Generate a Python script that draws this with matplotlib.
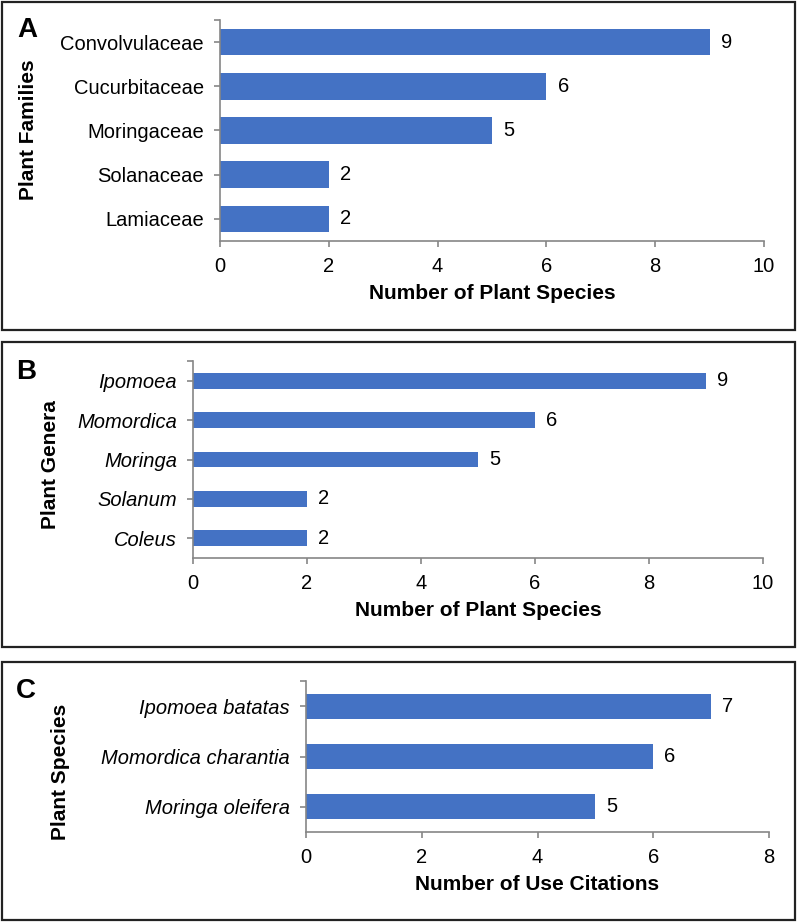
import matplotlib
matplotlib.use("Agg")
import matplotlib.pyplot as plt
from matplotlib.patches import Rectangle

plt.rcParams['font.family'] = ['Liberation Sans', 'DejaVu Sans']

# Panel A: plant families
familias = ['Convolvulaceae', 'Cucurbitaceae', 'Moringaceae', 'Solanaceae', 'Lamiaceae']
especies_familia = [9, 6, 5, 2, 2]

# Panel B: plant genera
generos = ['Ipomoea', 'Momordica', 'Moringa', 'Solanum', 'Coleus']
especies_genero = [9, 6, 5, 2, 2]

# Panel C: plant species
especies = ['Ipomoea batatas', 'Momordica charantia', 'Moringa oleifera']
citas = [7, 6, 5]

AZUL = '#4472C4'
GRIS = '#868686'
W, H = 797, 922

fig = plt.figure(figsize=(W / 100, H / 100), dpi=100)


def px_axes(x0, x1, y0, y1):
    # convert pixel box (top-left origin) to figure fraction
    return fig.add_axes([x0 / W, 1 - y1 / H, (x1 - x0) / W, (y1 - y0) / H])


def panel(ax, cats, vals, xmax, bar_h, xlabel, italic=False):
    pos = list(range(len(cats)))
    bars = ax.barh(pos, vals, height=bar_h, color=AZUL)
    ax.set_ylim(len(cats) - 0.5, -0.5)
    ax.set_xlim(0, xmax)
    ax.set_xticks(range(0, xmax + 1, 2))
    ax.set_yticks(pos)
    ax.set_yticklabels(cats, style='italic' if italic else 'normal')
    ax.set_yticks([-0.5], minor=True)
    ax.bar_label(bars, padding=8, fontsize=14.5)
    for s in ['top', 'right']:
        ax.spines[s].set_visible(False)
    for s in ['left', 'bottom']:
        ax.spines[s].set_color(GRIS)
        ax.spines[s].set_linewidth(1.2)
    ax.tick_params(axis='both', which='both', direction='out', length=4.5,
                   color=GRIS, width=1.2, labelsize=14.5, pad=7)
    ax.set_xlabel(xlabel, fontsize=15, fontweight='bold', labelpad=6)


def caja(y0, y1):
    fig.patches.append(Rectangle((2 / W, 1 - y1 / H), 793 / W, (y1 - y0) / H,
                                 transform=fig.transFigure, fill=False,
                                 edgecolor='#222222', linewidth=1.6))


# Panel A
axA = px_axes(220, 764, 20, 241)
panel(axA, familias, especies_familia, 10, 0.6, 'Number of Plant Species')
caja(2, 330)
fig.text(27 / W, 1 - 30 / H, 'A', fontsize=20, fontweight='bold', ha='center', va='center')
fig.text(28 / W, 1 - 130 / H, 'Plant Families', rotation=90, fontsize=15,
         fontweight='bold', ha='center', va='center')

# Panel B
axB = px_axes(193, 763, 361, 558)
panel(axB, generos, especies_genero, 10, 0.4, 'Number of Plant Species', italic=True)
caja(342, 647)
fig.text(26 / W, 1 - 372 / H, 'B', fontsize=20, fontweight='bold', ha='center', va='center')
fig.text(50 / W, 1 - 465 / H, 'Plant Genera', rotation=90, fontsize=15,
         fontweight='bold', ha='center', va='center')

# Panel C
axC = px_axes(306, 769, 681, 832)
panel(axC, especies, citas, 8, 0.5, 'Number of Use Citations', italic=True)
caja(662, 920)
fig.text(26 / W, 1 - 691 / H, 'C', fontsize=20, fontweight='bold', ha='center', va='center')
fig.text(61 / W, 1 - 772 / H, 'Plant Species', rotation=90, fontsize=15,
         fontweight='bold', ha='center', va='center')

fig.savefig('out.png', dpi=100)
plt.close(fig)
